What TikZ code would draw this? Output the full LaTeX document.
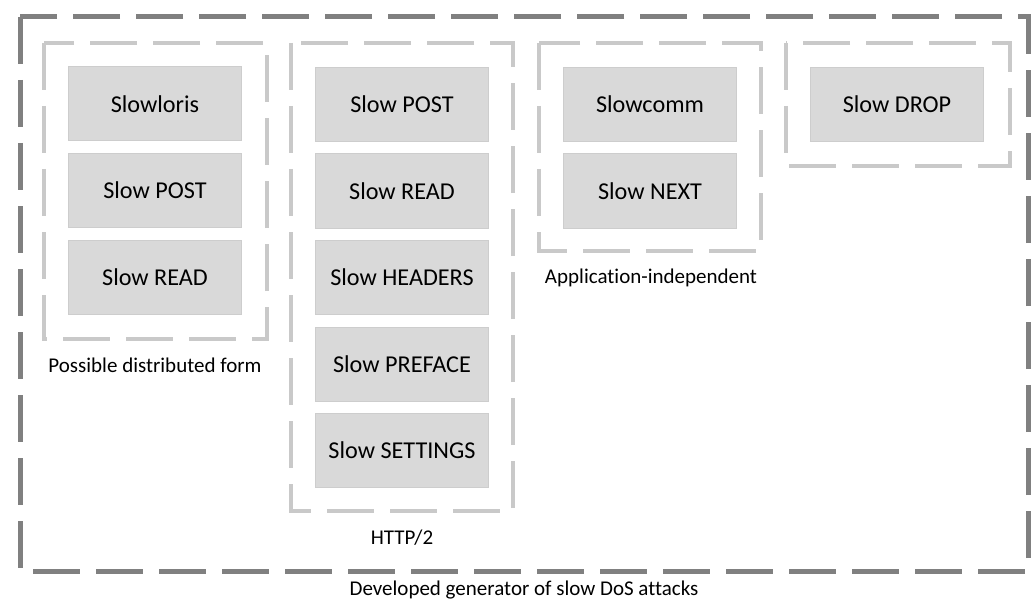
\documentclass[tikz,border=0pt]{standalone}
\usepackage{fontspec}
\setmainfont[Ligatures=NoCommon]{Carlito}
\definecolor{outerc}{HTML}{808080}
\definecolor{innerc}{HTML}{C9C9C9}
\definecolor{boxfill}{HTML}{D9D9D9}
\definecolor{boxline}{HTML}{CDCDCD}
\tikzset{
  outerframe/.style={draw=outerc,line width=5pt,dash pattern=on 47pt off 16pt},
  innerframe/.style={draw=innerc,line width=4.5pt,dash pattern=on 47pt off 16pt},
  attack/.style={draw=boxline,fill=boxfill,line width=1pt,minimum width=173pt,minimum height=74pt,inner sep=0pt,font=\fontsize{24.2}{28}\selectfont},
  grouplabel/.style={font=\fontsize{21}{25}\selectfont,inner sep=0pt}
}
\begin{document}
\begin{tikzpicture}[x=1pt,y=-1pt]
\useasboundingbox (0,0) rectangle (1035,604);
% outer frame
\draw[outerframe] (20,17) rectangle (1028,571);
\node[grouplabel] (lout) at (524,590) {Developed generator of slow DoS attacks};
% group 1
\draw[innerframe] (44,43) rectangle (267,339);
\node[attack] (a1) at (155,104) {Slowloris};
\node[attack] (a2) at (155,190.5) {Slow POST};
\node[attack] (a3) at (155,277) {Slow READ};
\node[grouplabel] (l1) at (155,365) {Possible distributed form};
% group 2
\draw[innerframe] (291,43) rectangle (513,511);
\node[attack] (b1) at (402,104.5) {Slow POST};
\node[attack] (b2) at (402,191) {Slow READ};
\node[attack] (b3) at (402,277.5) {Slow HEADERS};
\node[attack] (b4) at (402,364.5) {Slow PREFACE};
\node[attack] (b5) at (402,450.5) {Slow SETTINGS};
\node[grouplabel] (l2) at (402,538) {HTTP/2};
% group 3
\draw[innerframe] (539,43) rectangle (761,251);
\node[attack] (c1) at (650,104.5) {Slowcomm};
\node[attack] (c2) at (650,191) {Slow NEXT};
\node[grouplabel] (l3) at (651,278) {Application-independent};
% group 4
\draw[innerframe] (786,43) rectangle (1010,166);
\node[attack] (d1) at (897,104.5) {Slow DROP};
\end{tikzpicture}
\end{document}
